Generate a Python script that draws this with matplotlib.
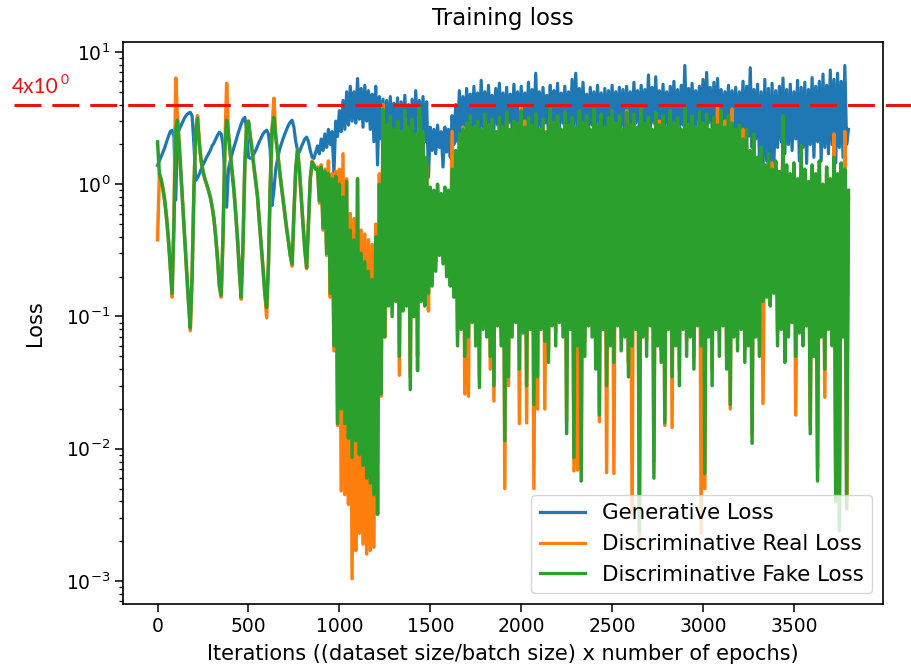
import numpy as np
import matplotlib
matplotlib.use('Agg')
import matplotlib.pyplot as plt

step = 10

gen_loss = [
    # 0 - 870
    1.39, 1.5, 1.62, 1.75, 1.9, 2.1, 2.3, 2.5, 2.56, 2.3,
    0.76, 2.4, 2.6, 2.8, 3.0, 3.2, 3.35, 3.45, 3.5, 3.3,
    2.0, 1.07, 1.12, 1.2, 1.3, 1.4, 1.5, 1.6, 1.7, 1.8,
    1.95, 2.05, 2.2, 2.35, 2.47, 2.4, 2.0, 1.2, 0.67, 1.3,
    1.5, 1.7, 1.9, 2.1, 2.35, 2.6, 2.85, 3.1, 3.2, 2.6,
    1.6, 1.57, 1.6, 1.7, 1.8, 1.95, 2.1, 2.25, 2.4, 2.5,
    2.56, 2.4, 1.8, 0.69, 0.9, 1.3, 1.55, 1.8, 2.0, 2.2,
    2.4, 2.6, 2.8, 2.95, 3.05, 2.7, 2.1, 1.8, 1.75, 1.9,
    2.05, 2.2, 2.27, 2.1, 1.8, 1.6, 1.57, 1.75,
    # 880 - 1250
    1.95, 1.7, 2.2, 1.8, 2.4, 1.9, 2.6, 2.0, 2.5, 1.2,
    3.0, 2.3, 3.6, 2.5, 4.3, 2.6, 5.0, 2.8, 5.5, 3.0,
    5.0, 2.9, 6.3, 3.1, 5.3, 2.7, 5.6, 3.0, 5.1, 2.6,
    4.8, 2.1, 5.5, 1.4, 4.6, 2.2, 4.4, 2.3,
    # 1260 - 3800
    4.3, 2.1, 4.6, 2.3, 4.1, 1.9, 4.5, 2.2, 4.2, 2.0,
    4.7, 2.3, 4.0, 2.1, 4.4, 1.95, 5.1, 2.2, 4.3, 2.0,
    4.6, 2.1, 4.2, 1.13, 2.7, 1.8, 2.6, 1.7, 2.8, 1.9,
    2.5, 1.35, 2.7, 1.75, 2.6, 1.6, 3.3, 2.0, 4.0, 2.1,
    5.1, 2.4, 4.6, 2.2, 5.3, 2.6, 4.8, 2.4, 5.5, 2.8,
    4.9, 2.5, 6.1, 2.7, 5.0, 2.4, 5.6, 2.9, 4.7, 2.6,
    5.3, 2.8, 5.8, 2.5, 4.9, 2.7, 5.4, 2.9, 4.8, 2.6,
    5.7, 2.8, 5.0, 2.5, 5.5, 2.7, 4.9, 2.9, 5.9, 2.6,
    5.2, 2.8, 6.9, 2.5, 5.0, 2.7, 5.4, 2.9, 4.7, 2.4,
    5.6, 1.6, 5.1, 2.8, 5.8, 2.6, 4.9, 2.9, 5.5, 2.7,
    5.0, 2.5, 6.2, 2.8, 6.9, 2.6, 5.3, 2.9, 5.9, 2.7,
    4.8, 2.5, 5.4, 2.8, 5.0, 2.6, 5.6, 2.9, 4.9, 2.7,
    5.3, 2.5, 5.1, 2.8, 5.6, 2.6, 5.0, 2.9, 5.4, 2.7,
    5.2, 2.5, 5.5, 2.8, 5.0, 2.6, 5.9, 2.9, 5.1, 2.7,
    5.6, 2.5, 5.2, 2.8, 6.7, 2.6, 5.4, 2.9, 6.5, 2.7,
    5.1, 2.5, 5.7, 2.8, 5.0, 2.6, 5.5, 2.9, 6.0, 2.7,
    5.2, 2.5, 5.6, 2.8, 7.9, 2.6, 5.3, 2.9, 5.8, 2.7,
    5.1, 2.5, 5.5, 2.8, 6.2, 2.6, 7.0, 2.9, 5.4, 2.7,
    5.9, 2.5, 6.3, 2.8, 5.2, 2.6, 5.0, 2.9, 5.6, 2.7,
    5.1, 2.5, 5.4, 2.2, 5.0, 2.4, 6.0, 2.1, 5.5, 2.3,
    7.6, 1.9, 5.2, 2.2, 5.7, 1.6, 5.0, 1.3, 6.2, 1.5,
    5.3, 1.28, 5.8, 1.4, 5.1, 1.9, 5.5, 2.1, 6.35, 1.7,
    5.2, 2.0, 5.7, 1.8, 5.0, 2.2, 6.1, 1.5, 5.4, 1.9,
    5.9, 1.44, 5.2, 2.0, 6.4, 1.6, 5.5, 2.1, 6.0, 1.5,
    6.8, 1.9, 5.6, 1.7, 7.3, 2.0, 6.2, 1.45, 6.9, 1.9,
    6.0, 1.6, 7.9, 2.0, 2.6,
]

real_loss = [
    # 0 - 870
    0.38, 1.2, 1.08, 0.92, 0.74, 0.55, 0.38, 0.24, 0.14, 0.5,
    6.35, 3.05, 1.9, 1.1, 0.65, 0.38, 0.22, 0.13, 0.078, 0.2,
    0.9, 2.6, 3.3, 2.0, 1.5, 1.25, 1.1, 1.0, 0.9, 0.8,
    0.68, 0.55, 0.4, 0.27, 0.17, 0.14, 0.4, 1.8, 5.8, 2.4,
    1.7, 1.25, 0.9, 0.6, 0.38, 0.22, 0.135, 0.35, 1.4, 2.8,
    3.0, 2.3, 1.8, 1.35, 1.05, 0.8, 0.52, 0.35, 0.23, 0.15,
    0.098, 0.25, 1.0, 2.6, 4.47, 2.3, 1.75, 1.3, 1.0, 0.78,
    0.6, 0.46, 0.37, 0.29, 0.24, 0.6, 1.3, 1.81, 1.3, 0.8,
    0.5, 0.32, 0.23, 0.5, 1.1, 1.5, 1.4, 1.3,
    # 880 - 1250
    1.35, 0.72, 1.4, 0.45, 1.3, 0.29, 1.5, 0.14, 1.2, 0.055,
    1.25, 0.015, 1.3, 0.0048, 1.7, 0.0045, 1.1, 0.0038, 0.6, 0.00104,
    0.55, 0.0017, 1.1, 0.0023, 0.45, 0.0019, 0.42, 0.0016, 0.38, 0.0017,
    0.35, 0.0018, 0.5, 0.0032, 1.2, 0.025, 4.0, 0.07,
    # 1260 - 3800
    2.4, 0.15, 2.9, 0.12, 2.3, 0.16, 2.6, 0.036, 2.2, 0.14,
    3.1, 0.15, 2.4, 0.035, 2.7, 0.12, 2.1, 0.05, 3.3, 0.16,
    2.2, 0.15, 1.4, 0.11, 0.85, 0.2, 0.8, 0.26, 0.9, 0.33,
    0.75, 0.28, 0.85, 0.23, 0.8, 0.2, 2.5, 0.17, 1.6, 0.07,
    2.1, 0.1, 2.7, 0.026, 2.5, 0.025, 2.9, 0.11, 2.3, 0.07,
    2.6, 0.035, 2.3, 0.1, 3.0, 0.085, 2.4, 0.04, 2.7, 0.023,
    2.2, 0.1, 2.8, 0.07, 2.4, 0.005, 3.0, 0.03, 2.3, 0.085,
    2.6, 0.11, 2.5, 0.0155, 3.9, 0.09, 3.0, 0.0157, 2.8, 0.1,
    2.4, 0.005, 2.9, 0.02, 2.3, 0.1, 2.7, 0.02, 2.2, 0.055,
    3.2, 0.1, 2.9, 0.075, 2.9, 0.11, 2.3, 0.085, 3.0, 0.016,
    2.4, 0.1, 2.8, 0.0068, 2.3, 0.0069, 3.1, 0.007, 2.5, 0.065,
    2.8, 0.1, 2.3, 0.085, 3.2, 0.05, 2.4, 0.016, 2.9, 0.1,
    2.3, 0.0066, 2.7, 0.075, 3.1, 0.0065, 2.5, 0.1, 2.8, 0.07,
    2.3, 0.085, 3.6, 0.045, 2.4, 0.0032, 2.9, 0.1, 2.3, 0.0018,
    3.2, 0.085, 2.5, 0.065, 2.8, 0.1, 2.3, 0.008, 3.0, 0.075,
    3.0, 0.055, 2.9, 0.015, 2.3, 0.1, 3.1, 0.0145, 2.5, 0.075,
    2.8, 0.04, 2.3, 0.1, 3.3, 0.065, 2.4, 0.085, 2.8, 0.05,
    2.3, 0.1, 3.0, 0.0023, 2.5, 0.005, 2.9, 0.085, 2.2, 0.04,
    2.8, 0.1, 3.9, 0.065, 3.1, 0.1, 3.0, 0.05, 2.8, 0.02,
    3.7, 0.085, 2.3, 0.07, 2.4, 0.1, 2.6, 0.055, 2.2, 0.075,
    1.6, 0.013, 2.1, 0.085, 1.4, 0.065, 1.7, 0.022, 1.2, 0.16,
    1.5, 0.14, 1.45, 0.17, 1.3, 0.075, 1.1, 0.1, 2.9, 0.055,
    1.2, 0.085, 1.05, 0.11, 1.25, 0.018, 0.95, 0.09, 1.7, 0.075,
    1.15, 0.1, 0.95, 0.015, 1.2, 0.06, 1.05, 0.007, 1.3, 0.085,
    0.9, 0.0245, 1.2, 0.1, 0.95, 0.075, 2.4, 0.005, 1.05, 0.003,
    1.3, 0.085, 2.5, 0.004, 0.8,
]

fake_loss = [
    # 0 - 870
    2.09, 1.2, 1.08, 0.92, 0.74, 0.55, 0.38, 0.24, 0.15, 0.5,
    2.6, 3.05, 1.9, 1.1, 0.65, 0.38, 0.22, 0.13, 0.082, 0.2,
    0.9, 2.6, 3.15, 2.0, 1.5, 1.25, 1.1, 1.0, 0.9, 0.8,
    0.68, 0.55, 0.4, 0.27, 0.17, 0.145, 0.4, 1.8, 3.05, 2.4,
    1.7, 1.25, 0.9, 0.6, 0.38, 0.22, 0.14, 0.35, 1.4, 2.8,
    3.0, 2.3, 1.8, 1.35, 1.05, 0.8, 0.52, 0.35, 0.23, 0.15,
    0.117, 0.25, 1.0, 2.6, 3.2, 2.3, 1.75, 1.3, 1.0, 0.78,
    0.6, 0.46, 0.37, 0.29, 0.25, 0.6, 1.3, 1.81, 1.3, 0.8,
    0.5, 0.32, 0.235, 0.5, 1.1, 1.47, 1.4, 1.3,
    # 880 - 1250
    1.3, 0.75, 1.35, 0.47, 1.25, 0.3, 1.2, 0.15, 1.1, 0.06,
    1.15, 0.0155, 1.0, 0.02, 0.8, 0.0155, 1.05, 0.012, 0.45, 0.0086,
    0.38, 0.0115, 1.1, 0.009, 0.3, 0.0075, 0.26, 0.006, 0.22, 0.0055,
    0.19, 0.0045, 0.4, 0.0032, 1.0, 0.026, 3.7, 0.07,
    # 1260 - 3800
    2.8, 0.12, 3.3, 0.1, 2.6, 0.13, 3.0, 0.05, 2.5, 0.11,
    3.6, 0.12, 2.7, 0.028, 3.1, 0.1, 2.4, 0.039, 3.8, 0.13,
    2.5, 0.12, 1.6, 0.15, 0.95, 0.17, 0.9, 0.22, 1.0, 0.29,
    0.85, 0.25, 0.95, 0.2, 0.9, 0.17, 1.3, 0.14, 1.8, 0.06,
    2.4, 0.08, 2.6, 0.05, 2.9, 0.07, 3.3, 0.09, 2.7, 0.06,
    3.0, 0.029, 2.6, 0.08, 3.4, 0.07, 2.8, 0.05, 3.1, 0.03,
    2.5, 0.085, 3.2, 0.06, 2.7, 0.0115, 3.5, 0.035, 2.6, 0.07,
    3.0, 0.09, 2.9, 0.04, 3.6, 0.075, 2.7, 0.03, 3.2, 0.08,
    2.8, 0.0216, 3.4, 0.035, 2.6, 0.08, 3.1, 0.065, 2.5, 0.045,
    3.7, 0.085, 2.9, 0.06, 3.3, 0.09, 2.6, 0.07, 3.5, 0.013,
    2.8, 0.08, 3.2, 0.0086, 2.7, 0.06, 3.6, 0.0057, 2.9, 0.05,
    3.3, 0.085, 2.6, 0.07, 3.7, 0.04, 2.8, 0.018, 3.4, 0.08,
    2.7, 0.03, 3.2, 0.06, 3.6, 0.045, 2.9, 0.085, 3.3, 0.055,
    2.6, 0.07, 3.5, 0.035, 2.8, 0.06, 3.4, 0.08, 2.7, 0.0024,
    3.7, 0.07, 2.9, 0.05, 3.2, 0.085, 2.6, 0.006, 3.5, 0.06,
    2.8, 0.045, 3.3, 0.0157, 2.7, 0.08, 3.6, 0.035, 2.9, 0.06,
    3.2, 0.03, 2.6, 0.08, 3.8, 0.05, 2.8, 0.07, 3.3, 0.04,
    2.7, 0.085, 3.5, 0.06, 2.9, 0.0065, 3.4, 0.07, 2.6, 0.03,
    3.2, 0.08, 2.8, 0.05, 3.6, 0.085, 2.7, 0.04, 3.3, 0.0216,
    2.9, 0.07, 2.6, 0.055, 2.8, 0.08, 2.2, 0.045, 2.6, 0.06,
    1.8, 0.011, 2.4, 0.07, 1.6, 0.05, 1.9, 0.13, 1.4, 0.14,
    1.7, 0.12, 1.3, 0.15, 1.5, 0.06, 1.25, 0.08, 3.3, 0.045,
    1.4, 0.07, 1.2, 0.09, 1.45, 0.05, 1.1, 0.075, 1.96, 0.06,
    1.3, 0.085, 1.05, 0.013, 1.4, 0.05, 1.2, 0.0057, 1.5, 0.07,
    1.0, 0.04, 1.35, 0.08, 1.1, 0.06, 1.6, 0.004, 1.2, 0.0024,
    1.45, 0.07, 1.3, 0.0035, 0.9,
]

labels = ['Generative Loss', 'Discriminative Real Loss', 'Discriminative Fake Loss']
colors = ['#1f77b4', '#ff7f0e', '#2ca02c']
widths = [2.3, 2.5, 2.5]
threshold = 4.0

iters = np.arange(len(gen_loss)) * step

fig = plt.figure(figsize=(9.11, 6.72), dpi=100, facecolor='white')
ax = fig.add_axes([123/911, 68/672, 760/911, 562/672])

for vals, lab, col, lw in zip([gen_loss, real_loss, fake_loss], labels, colors, widths):
    ax.plot(iters[:len(vals)], vals, color=col, lw=lw, label=lab)

ax.set_yscale('log')
ax.set_ylim(6.7e-4, 11.9)
ax.set_xlim(-190, 3990)

ax.tick_params(which='major', labelsize=13.5, length=5.5, width=1.1)
ax.tick_params(which='minor', length=3.2, width=0.9)
for s in ax.spines.values():
    s.set_linewidth(1.2)

ax.set_title('Training loss', fontsize=16.5, pad=12)
ax.set_xlabel('Iterations ((dataset size/batch size) x number of epochs)', fontsize=15)
ax.xaxis.set_label_coords(0.5, -0.072)
ax.set_ylabel('Loss', fontsize=15)
ax.yaxis.set_label_coords(-0.103, 0.5)

leg = ax.legend(loc='lower right', fontsize=15.4, handlelength=2.1)
for h in leg.get_lines():
    h.set_linewidth(2.3)

# red threshold line drawn across the whole figure width
ax.axhline(threshold, xmin=(14-123)/760, xmax=(911-123)/760, color='#ee1111',
           lw=2.2, dashes=(8.8, 3.6), clip_on=False, zorder=5)
fig.text(12/911, 1-93/672, '4x10', color='#ee1111', fontsize=15,
         family='Lato', va='baseline')
fig.text(61/911, 1-84/672, '0', color='#ee1111', fontsize=10,
         family='Lato', va='baseline')

fig.savefig('out.png', dpi=100)
